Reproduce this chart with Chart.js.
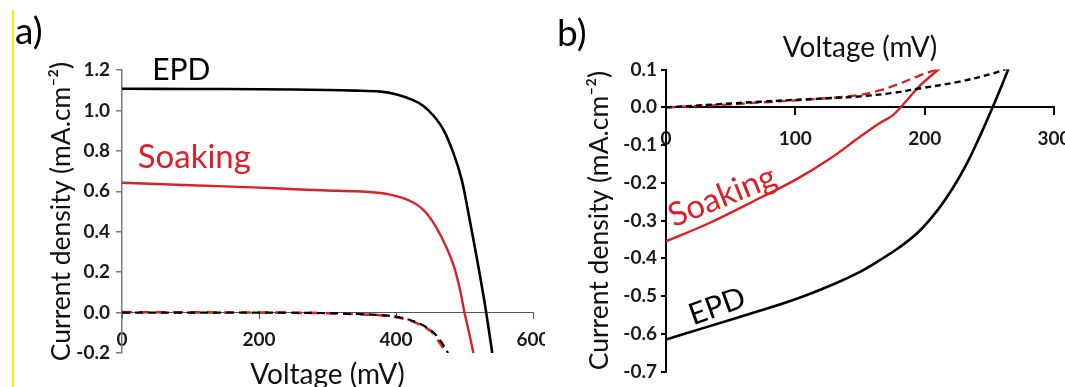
<!DOCTYPE html>
<html><head><meta charset="utf-8">
<script src="https://cdn.jsdelivr.net/npm/chart.js@4.4.1/dist/chart.umd.min.js"></script>
<style>
html,body{margin:0;padding:0;background:#fff;width:1065px;height:387px;overflow:hidden;}
#wrap{position:relative;width:1065px;height:387px;}
canvas{position:absolute;top:0;}
#cA{left:0;}
#cB{left:545px;}
.yl{position:absolute;left:12px;top:10px;width:2px;height:377px;background:#f5ee00;}
.pl{position:absolute;font-family:Lato,sans-serif;font-size:37px;color:#000;line-height:1;}
</style></head>
<body><div id="wrap">
<div class="yl"></div>
<canvas id="cA" width="545" height="387"></canvas>
<canvas id="cB" width="520" height="387"></canvas>
<div class="pl" style="left:15px;top:11px;">a)</div>
<div class="pl" style="left:557px;top:13px;">b)</div>
</div>
<script>
// ---------- tick labels ----------
const aTicksX = [0, 200, 400, 600];
const aTicksY = [-0.2, 0, 0.2, 0.4, 0.6, 0.8, 1.0, 1.2];
const bTicksX = [0, 100, 200, 300];
const bTicksY = [-0.7, -0.6, -0.5, -0.4, -0.3, -0.2, -0.1, 0, 0.1];

// ---------- panel a) : illuminated (solid) / dark (dashed) J-V ----------
const aEpdV  = [0, 100, 200, 300, 340, 377, 401, 425, 440, 454.5, 469, 483.7, 495.9, 505.6, 515.3, 524.5, 530, 535, 540.5];
const aEpdJ  = [1.107, 1.106, 1.105, 1.101, 1.098, 1.093, 1.079, 1.051, 1.022, 0.975, 0.906, 0.79, 0.658, 0.494, 0.319, 0.146, 0.036, -0.074, -0.2];
const aSoakV = [0, 100, 200, 260, 300, 340, 370, 390, 406, 420, 433, 445, 459, 474, 484, 493, 500, 508, 513];
const aSoakJ = [0.642, 0.630, 0.618, 0.609, 0.604, 0.600, 0.594, 0.585, 0.571, 0.553, 0.528, 0.49, 0.42, 0.32, 0.235, 0.12, 0.0, -0.12, -0.2];
const aEpdDarkV  = [0, 100, 200, 300, 350, 380, 400, 425, 450, 464, 476];
const aEpdDarkJ  = [0.0, 0.0, 0.0, -0.003, -0.008, -0.013, -0.02, -0.042, -0.085, -0.135, -0.2];
const aSoakDarkV = [0, 100, 200, 300, 350, 380, 400, 425, 450, 462, 474];
const aSoakDarkJ = [0.002, 0.001, 0.0, -0.003, -0.009, -0.014, -0.022, -0.045, -0.09, -0.14, -0.2];

// ---------- panel b) ----------
const bEpdV  = [0, 30, 65, 100, 130, 150, 165, 180, 195, 210, 222, 233, 243, 253, 260, 265];
const bEpdJ  = [-0.615, -0.5835, -0.5468, -0.5083, -0.4678, -0.4358, -0.4055, -0.372, -0.331, -0.2723, -0.2123, -0.1463, -0.0743, 0.0037, 0.0611, 0.104];
const bSoakV = [0, 34, 73, 100, 127, 150, 165, 175, 185, 195, 204, 212];
const bSoakJ = [-0.355, -0.3057, -0.2394, -0.1922, -0.1355, -0.078, -0.042, -0.022, 0.014, 0.053, 0.081, 0.104];
const bEpdDarkV  = [0, 40, 73, 124, 150, 175, 196, 227, 253, 265];
const bEpdDarkJ  = [0, 0.008, 0.015, 0.024, 0.029, 0.038, 0.05, 0.068, 0.09, 0.104];
const bSoakDarkV = [0, 40, 73, 124, 150, 165, 180, 195, 209, 212];
const bSoakDarkJ = [0, 0.006, 0.013, 0.024, 0.033, 0.045, 0.062, 0.083, 0.1, 0.104];

const RED = '#dd1f26';
const BLK = '#000000';
const FONT = 'Lato, "Open Sans", sans-serif';

function pts(v, j) { return v.map((x, i) => ({x: x, y: j[i]})); }
function ds(v, j, color, dash, width) {
  return {
    data: pts(v, j), borderColor: color, backgroundColor: color, borderWidth: width,
    borderDash: dash, pointRadius: 0, pointHoverRadius: 0, fill: false,
    tension: 0.35, borderCapStyle: 'butt', borderJoinStyle: 'round'
  };
}
function notesPlugin(items) {
  return {
    id: 'notes',
    afterDatasetsDraw(chart) {
      const ctx = chart.ctx, xs = chart.scales.x, ys = chart.scales.y;
      items.forEach(it => {
        ctx.save();
        ctx.translate(xs.getPixelForValue(it.x), ys.getPixelForValue(it.y));
        ctx.rotate((it.angle || 0) * Math.PI / 180);
        ctx.font = it.size + 'px ' + FONT;
        ctx.fillStyle = it.color;
        ctx.textAlign = 'left';
        ctx.textBaseline = 'alphabetic';
        ctx.fillText(it.text, 0, 0);
        ctx.restore();
      });
    }
  };
}
const fmt1 = v => Number(v).toFixed(1);
const noPad = s => { s.paddingLeft = 0; s.paddingRight = 0; };
const tickFont = { family: FONT, size: 19, weight: 'bold' };

// ---------- chart a) ----------
new Chart(document.getElementById('cA'), {
  type: 'line',
  data: { datasets: [
    ds(aEpdDarkV, aEpdDarkJ, BLK, [8, 5], 2.2),
    ds(aSoakDarkV, aSoakDarkJ, RED, [10, 7], 2.6),
    ds(aSoakV, aSoakJ, RED, [], 2.4),
    ds(aEpdV, aEpdJ, BLK, [], 2.6)
  ]},
  options: {
    responsive: false, animation: false, events: [],
    layout: { padding: { left: 30, top: 70, right: 12, bottom: 34 } },
    plugins: { legend: { display: false }, tooltip: { enabled: false } },
    scales: {
      x: {
        type: 'linear', min: 0, max: 600, position: { y: 0 },
        afterBuildTicks: s => { s.ticks = aTicksX.map(v => ({value: v})); },
        afterFit: noPad,
        border: { display: true, color: '#555555', width: 1 },
        grid: { display: true, drawOnChartArea: false, drawTicks: true, tickLength: 6, color: '#555555', lineWidth: 1 },
        ticks: { padding: 10, color: '#1a1a1a', maxRotation: 0, autoSkip: false, font: tickFont },
        title: { display: true, text: 'Voltage (mV)', color: '#111',
                 font: { family: FONT, size: 28, lineHeight: 1.0 }, padding: { top: 0, bottom: 0 } }
      },
      y: {
        type: 'linear', min: -0.2, max: 1.2, position: 'left',
        afterBuildTicks: s => { s.ticks = aTicksY.map(v => ({value: v})); },
        afterFit: s => { s.width = 92; },
        border: { display: true, color: '#7a7a7a', width: 1.5 },
        grid: { display: true, drawOnChartArea: false, drawTicks: true, tickLength: 6, color: '#7a7a7a', lineWidth: 1.5 },
        ticks: { padding: 6, color: '#1a1a1a', callback: fmt1, font: tickFont },
        title: { display: true, text: 'Current density (mA.cm\u207B\u00B2)', color: '#111',
                 font: { family: FONT, size: 26.5, lineHeight: 1.2 }, padding: { top: 16, bottom: 0 } }
      }
    }
  },
  plugins: [notesPlugin([
    { text: 'EPD', x: 44, y: 1.149, color: BLK, size: 30 },
    { text: 'Soaking', x: 23, y: 0.713, color: RED, size: 33 }
  ])]
});

// ---------- chart b) ----------
new Chart(document.getElementById('cB'), {
  type: 'line',
  data: { datasets: [
    ds(bEpdDarkV, bEpdDarkJ, BLK, [6, 4], 2.4),
    ds(bSoakDarkV, bSoakDarkJ, RED, [9, 5], 2.4),
    ds(bSoakV, bSoakJ, RED, [], 2.4),
    ds(bEpdV, bEpdJ, BLK, [], 2.6)
  ]},
  options: {
    responsive: false, animation: false, events: [],
    layout: { padding: { left: 25, top: 28, right: 11, bottom: 15 } },
    plugins: {
      legend: { display: false }, tooltip: { enabled: false },
      title: { display: true, text: 'Voltage (mV)', color: '#111', fullSize: false,
               font: { family: FONT, size: 28, weight: 'normal', lineHeight: 1.2 }, padding: { top: 3, bottom: 5 } }
    },
    scales: {
      x: {
        type: 'linear', min: 0, max: 300, position: { y: 0 },
        afterBuildTicks: s => { s.ticks = bTicksX.map(v => ({value: v})); },
        afterFit: noPad,
        border: { display: true, color: BLK, width: 2 },
        grid: { display: true, drawOnChartArea: false, drawTicks: true, tickLength: 7, color: BLK, lineWidth: 2 },
        ticks: { padding: 13, color: '#1a1a1a', maxRotation: 0, autoSkip: false, font: tickFont }
      },
      y: {
        type: 'linear', min: -0.7, max: 0.1, position: 'left',
        afterBuildTicks: s => { s.ticks = bTicksY.map(v => ({value: v})); },
        afterFit: s => { s.width = 96; },
        border: { display: true, color: BLK, width: 2 },
        grid: { display: true, drawOnChartArea: false, drawTicks: true, tickLength: 5, color: BLK, lineWidth: 2 },
        ticks: { padding: 4, color: '#1a1a1a', callback: fmt1, font: tickFont },
        title: { display: true, text: 'Current density (mA.cm\u207B\u00B2)', color: '#111',
                 font: { family: FONT, size: 26.5, lineHeight: 1.2 }, padding: { top: 14, bottom: 0 } }
      }
    }
  },
  plugins: [notesPlugin([
    { text: 'Soaking', x: 6, y: -0.318, color: RED, size: 33, angle: -22 },
    { text: 'EPD', x: 21, y: -0.578, color: BLK, size: 30, angle: -20 }
  ])]
});
</script>
</body></html>
